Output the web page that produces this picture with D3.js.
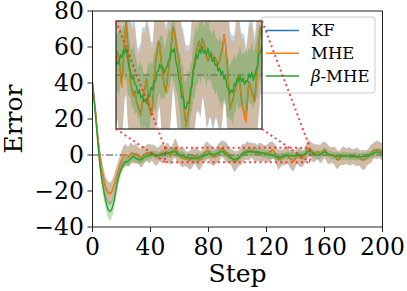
<!DOCTYPE html>
<html>
<head>
<meta charset="utf-8">
<script src="https://cdn.jsdelivr.net/npm/d3@7"></script>
<style>
  body { margin: 0; background: #fff; }
  text { font-family: "DejaVu Serif", serif; fill: #000; }
</style>
</head>
<body>
<div id="chart"></div>
<script>
// step index is the array position (0..200)
const steps = d3.range(0, 201);
const xTicks = [0, 40, 80, 120, 160, 200];
const yTicks = [-40, -20, 0, 20, 40, 60, 80];
const seriesNames = ["KF", "MHE", "β-MHE"];
const seriesColors = ["#1f77b4", "#ff7f0e", "#2ca02c"];

const kfMean = [
  40,32.2,24.8,15.8,7.3,0.3,-5.8,-10.3,-14.3,-17.8,-19.8,-21.1,-21.4,-20.8,-19,-16.6,-13.6,-10.6,-8,-5.4,-3.1,-1.5,-0.3,0.2,-0.5,-0.9,0.5,1.1,0.6,0.4,
  1.0,0.2,-0.7,-1.5,-1.0,-0.3,0.4,0.9,1.3,0.8,1.0,1.4,0.7,-0.1,-0.8,-0.5,0.4,1.0,0.5,1.2,
  0.8,1.7,1.3,0.3,-0.8,0.9,3.0,3.9,2.3,0.7,-0.5,-1.1,-1.5,-1.2,-1.9,-2.3,-2.6,-2.9,-2.1,-1.5,
  -0.8,-0.3,-1.5,-2.5,-2.9,-2.3,-0.6,0.8,1.7,2.5,2.2,1.0,0.1,-0.7,-1.2,-0.5,0.4,1.3,2.4,3.5,
  3.2,2.5,1.7,1.1,0.1,-0.7,-1.5,-2.8,-3.7,-3.1,-2.5,-1.6,-0.5,0.4,1.2,1.7,2.2,2.5,1.8,2.7,
  2.4,2.0,1.4,1.1,1.3,1.7,1.5,1.2,1.3,1.0,0.8,1.1,1.6,2.0,3.0,2.3,1.1,-0.5,-2.5,-2.2,
  -1.8,-1.3,-1.0,-0.4,0,-0.8,-1.9,-2.5,-3.0,-3.4,-1.9,-0.5,-0.8,-1.2,-1.6,-1.9,-0.5,0.7,2.5,3.5,
  3.3,2.1,1.3,1.0,1.4,1.9,1.1,0.6,1.3,2.3,2.9,2.1,0.7,0.1,-0.2,0.3,-0.3,-0.5,-1.7,-2.7,
  -2.4,-1.3,-0.7,-0.3,-0.4,-0.8,-0.5,-0.7,-1.1,-0.9,-1.0,-0.8,-1.2,-1.0,-1.5,-2.1,-2.5,-2.8,-2.6,-1.7,
  -0.9,-0.2,0.7,1.6,2.5,2.9,2.7,3.0,2.8,2.2,1.7
];
const kfStd = [
  0.6,1.6,2.6,3.3,3.9,4.3,4.7,5.1,5.5,5.8,6.1,6.2,6.3,6.2,6.1,5.9,5.7,5.5,5.4,5.3,5.5,5.9,6.2,5.8,5.3,5.7,6.1,5.5,5.0,5.3,
  5.6,5.0,4.6,5.2,5.8,5.3,4.7,4.4,5.0,5.5,4.9,4.5,5.1,5.6,5.2,4.6,4.3,4.8,5.4,5.0,
  4.6,5.0,5.6,5.2,4.7,4.3,4.8,5.4,5.8,5.2,4.6,4.9,5.5,5.1,4.5,4.2,4.7,5.3,5.7,5.0,
  4.4,4.8,5.3,5.8,5.4,4.7,4.3,4.9,5.5,5.1,4.6,5.0,5.6,5.3,4.8,4.4,4.9,5.4,5.0,4.5,
  4.8,5.3,5.7,5.2,4.6,4.3,4.9,5.5,5.9,5.3,4.7,4.4,5.0,5.6,5.2,4.6,4.9,5.4,5.0,4.5,
  4.3,4.8,5.3,4.9,4.5,5.0,5.5,5.1,4.6,4.3,4.7,5.2,5.7,5.3,4.8,4.4,4.9,5.5,5.8,5.2,
  4.7,4.3,4.8,5.3,4.9,4.5,5.0,5.6,5.9,5.3,4.7,4.4,4.9,5.5,5.1,4.6,4.3,4.8,5.3,5.0,
  4.5,4.8,5.3,5.0,4.5,4.2,4.6,5.1,5.5,5.0,4.6,4.9,5.4,5.1,4.6,4.3,4.7,5.2,5.6,5.1,
  4.6,4.3,4.8,5.3,4.9,4.4,4.7,5.2,4.8,4.4,4.2,4.7,5.3,5.0,4.5,4.8,5.4,5.7,5.2,4.6,
  4.3,4.7,5.2,4.8,4.4,4.7,5.2,4.9,4.5,4.8,5.1
];

const mheMean = [
  40,32,24.5,15.5,7,0,-6,-10.5,-14.5,-18,-20,-21.3,-21.6,-21,-19.2,-16.8,-13.8,-10.8,-8.2,-5.6,-3.2,-1.6,-0.4,0.1,-0.6,-1,0.4,1,0.5,0.3,
  0.9,0.1,-0.8,-1.6,-1.1,-0.4,0.3,0.8,1.2,0.7,0.9,1.3,0.6,-0.2,-0.9,-0.6,0.3,0.9,0.4,1.1,
  0.7,1.6,1.2,0.2,-0.9,0.8,2.9,3.8,2.2,0.6,-0.6,-1.2,-1.6,-1.3,-2.0,-2.4,-2.7,-3.0,-2.2,-1.6,
  -0.9,-0.4,-1.6,-2.6,-3.0,-2.4,-0.7,0.7,1.6,2.4,2.1,0.9,0,-0.8,-1.3,-0.6,0.3,1.2,2.3,3.4,
  3.1,2.4,1.6,1.0,0,-0.8,-1.6,-2.9,-3.8,-3.2,-2.6,-1.7,-0.6,0.3,1.1,1.6,2.1,2.4,1.7,2.6,
  2.3,1.9,1.3,1.0,1.2,1.6,1.4,1.1,1.2,0.9,0.7,1.0,1.5,1.9,2.9,2.2,1.0,-0.6,-2.6,-2.3,
  -1.9,-1.4,-1.1,-0.5,-0.1,-0.9,-2.0,-2.6,-3.1,-3.5,-2.0,-0.6,-0.9,-1.3,-1.7,-2.0,-0.6,0.6,2.4,3.4,
  3.2,2.0,1.2,0.9,1.3,1.8,1.0,0.5,1.2,2.2,2.8,2.0,0.6,0,-0.3,0.2,-0.4,-0.6,-1.8,-2.8,
  -2.5,-1.4,-0.8,-0.4,-0.5,-0.9,-0.6,-0.8,-1.2,-1.0,-1.1,-0.9,-1.3,-1.1,-1.6,-2.2,-2.6,-2.9,-2.7,-1.8,
  -1.0,-0.3,0.6,1.5,2.4,2.8,2.6,2.9,2.7,2.1,1.6
];
const mheStd = [
  0.5,1.5,2.5,3.2,3.8,4.2,4.6,5.0,5.4,5.7,6.0,6.1,6.2,6.1,6.0,5.8,5.6,5.4,5.3,5.2,5.4,5.8,6.1,5.7,5.2,5.6,6.0,5.4,4.9,5.2,
  5.5,4.8,4.4,5.0,5.6,5.1,4.5,4.2,4.8,5.3,4.7,4.3,4.9,5.4,5.0,4.4,4.1,4.6,5.2,4.8,
  4.3,4.7,5.3,4.9,4.4,4.0,4.5,5.1,5.5,4.9,4.3,4.6,5.2,4.8,4.2,3.9,4.4,5.0,5.4,4.7,
  4.1,4.5,5.0,5.5,5.1,4.4,4.0,4.6,5.2,4.8,4.3,4.7,5.3,5.0,4.5,4.1,4.6,5.1,4.7,4.2,
  4.5,5.0,5.4,4.9,4.3,4.0,4.6,5.2,5.6,5.0,4.4,4.1,4.7,5.3,4.9,4.3,4.6,5.1,4.7,4.2,
  4.0,4.5,5.0,4.6,4.2,4.7,5.2,4.8,4.3,4.0,4.4,4.9,5.4,5.0,4.5,4.1,4.6,5.2,5.5,4.9,
  4.4,4.0,4.5,5.0,4.6,4.2,4.7,5.3,5.6,5.0,4.4,4.1,4.6,5.2,4.8,4.3,4.0,4.5,5.0,4.7,
  4.3,4.6,5.1,4.8,4.3,4.0,4.4,4.9,5.3,4.8,4.4,4.7,5.2,4.9,4.4,4.1,4.5,5.0,5.4,4.9,
  4.4,4.1,4.6,5.1,4.7,4.2,4.5,5.0,4.6,4.2,4.0,4.5,5.1,4.8,4.3,4.6,5.2,5.5,5.0,4.4,
  4.1,4.5,5.0,4.6,4.2,4.5,5.0,4.7,4.3,4.6,4.9
];

const bmheMean = [
  40,31,22.5,13,3.5,-5,-11.5,-16.5,-21,-25,-28.3,-30.5,-31.4,-30.6,-28.4,-25,-20.6,-16,-12.4,-9.6,-7.4,-5.6,-4.3,-3.6,-3.8,-3.1,-2.4,-1.3,-0.9,-1.4,
  -1.9,-2.3,-2.7,-2.8,-2.3,-1.8,-1.2,-0.8,-0.4,-0.2,0.1,0.3,0.5,0.2,-0.1,-0.3,-0.4,0,0.4,0.6,
  0.7,1.0,0.8,1.5,1.3,1.9,1.6,2.0,1.2,0.6,0.2,-0.3,-0.1,-0.7,-0.8,-1.4,-1.1,-1.7,-1.5,-2.0,
  -1.8,-2.1,-1.5,-1.6,-0.9,-1.1,-0.4,-0.5,0.2,0.3,0.8,0.5,0.6,0.1,0.5,0.6,1.1,1.2,1.9,1.7,
  2.0,1.0,0.6,-0.3,-0.7,-1.7,-1.6,-2.4,-2.5,-2.0,-2.1,-1.1,-0.8,0.4,0.7,1.5,1.2,1.9,1.6,2.1,
  1.6,1.8,1.5,2.0,1.4,1.5,1.0,1.2,0.7,0.8,0.3,0.5,0.0,0.3,-0.3,-0.1,-0.9,-1.0,-1.4,-1.1,
  -1.3,-0.6,-0.8,-0.2,-0.5,-0.1,-0.5,-0.2,-0.7,-0.4,-0.5,0.1,-0.2,0.2,-0.4,-0.1,0.4,0.7,1.6,1.7,
  2.1,1.5,0.9,0.4,0.1,0,-0.1,0.2,0.7,1.3,1.7,1.4,0.8,0.4,0.1,-0.1,-0.3,-0.5,-0.6,-0.8,
  -0.9,-0.7,-0.5,-0.4,-0.5,-0.6,-0.6,-0.7,-0.8,-0.7,-0.6,-0.7,-0.8,-0.9,-0.8,-0.9,-1.0,-0.9,-0.7,-0.5,
  -0.3,0,0.3,0.6,1.0,1.4,1.7,1.6,1.4,1.2,1.0
];
const bmheStd = [
  0.5,1.2,2.0,2.6,3.1,3.5,3.9,4.2,4.5,4.8,5.0,5.1,5.1,5.0,4.8,4.5,4.2,3.9,3.6,3.4,3.2,3.0,2.9,2.8,2.7,2.6,2.5,2.5,2.4,2.3,
  2.2,2.3,2.1,2.0,2.2,2.4,2.1,1.9,2.0,2.2,2.3,2.0,1.8,2.0,2.3,2.1,1.9,2.1,2.4,2.2,
  1.9,2.1,2.4,2.2,1.9,1.8,2.0,2.3,2.5,2.2,1.9,2.1,2.4,2.2,1.9,1.8,2.1,2.4,2.3,2.0,
  1.9,2.2,2.5,2.3,2.0,1.8,2.0,2.3,2.2,1.9,2.1,2.4,2.2,1.9,1.8,2.1,2.3,2.0,1.9,2.2,
  2.4,2.2,1.9,2.0,2.3,2.5,2.2,1.9,2.1,2.4,2.2,1.9,1.8,2.1,2.4,2.2,1.9,2.0,2.3,2.1,
  1.9,2.1,2.4,2.2,1.9,1.8,2.0,2.3,2.2,1.9,2.1,2.4,2.5,2.2,1.9,2.0,2.3,2.1,1.9,2.2,
  2.4,2.2,1.9,1.8,2.1,2.3,2.0,1.9,2.2,2.4,2.1,1.9,2.0,2.3,2.2,1.9,2.1,2.4,2.2,1.9,
  1.8,2.0,2.3,2.1,1.9,2.2,2.4,2.1,1.9,2.0,2.3,2.2,1.9,1.8,2.1,2.3,2.0,1.9,2.2,2.4,
  2.2,1.9,2.0,2.3,2.1,1.9,2.2,2.4,2.1,1.9,2.0,2.3,2.2,1.9,1.8,2.1,2.4,2.2,1.9,2.1,
  2.3,2.1,1.9,2.2,2.4,2.1,1.9,2.0,2.3,2.1,2.0
];

// zoomed window shown in the inset
const zoomSteps = [50, 150];
const zoomErr = [-4, 4];

const width = 407, height = 291;
const plot = { left: 92.5, right: 382.5, top: 11, bottom: 227 };
const inset = { left: 116, right: 262, top: 21, bottom: 129 };

const series = [
  { name: seriesNames[0], color: seriesColors[0], mean: kfMean, std: kfStd },
  { name: seriesNames[1], color: seriesColors[1], mean: mheMean, std: mheStd },
  { name: seriesNames[2], color: seriesColors[2], mean: bmheMean, std: bmheStd }
];

const svg = d3.select("#chart").append("svg")
  .attr("width", width)
  .attr("height", height);

const x = d3.scaleLinear().domain([0, 200]).range([plot.left, plot.right]);
const y = d3.scaleLinear().domain([-40, 80]).range([plot.bottom, plot.top]);

const defs = svg.append("defs");
defs.append("clipPath").attr("id", "clipMain").append("rect")
  .attr("x", plot.left).attr("y", plot.top)
  .attr("width", plot.right - plot.left).attr("height", plot.bottom - plot.top);
defs.append("clipPath").attr("id", "clipInset").append("rect")
  .attr("x", inset.left).attr("y", inset.top)
  .attr("width", inset.right - inset.left).attr("height", inset.bottom - inset.top);

function drawSeries(g, xs, ys, domain) {
  const idx = steps.filter(s => s >= domain[0] - 1 && s <= domain[1] + 1);
  // zero reference line
  g.append("line")
    .attr("x1", xs(domain[0])).attr("x2", xs(domain[1]))
    .attr("y1", ys(0)).attr("y2", ys(0))
    .attr("stroke", "#000").attr("stroke-opacity", 0.5)
    .attr("stroke-width", 1.3)
    .attr("stroke-dasharray", "7,2.5,1.5,2.5");
  series.forEach(s => {
    const area = d3.area()
      .x(i => xs(i))
      .y0(i => ys(s.mean[i] - s.std[i]))
      .y1(i => ys(s.mean[i] + s.std[i]));
    g.append("path")
      .datum(idx)
      .attr("d", area)
      .attr("fill", s.color)
      .attr("fill-opacity", 0.3);
    const line = d3.line().x(i => xs(i)).y(i => ys(s.mean[i]));
    g.append("path")
      .datum(idx)
      .attr("d", line)
      .attr("fill", "none")
      .attr("stroke", s.color)
      .attr("stroke-width", 1.4)
      .attr("stroke-linejoin", "round");
  });
}

// main plot
const main = svg.append("g").attr("clip-path", "url(#clipMain)");
drawSeries(main, x, y, [0, 200]);

// axes frame
svg.append("rect")
  .attr("x", plot.left).attr("y", plot.top)
  .attr("width", plot.right - plot.left).attr("height", plot.bottom - plot.top)
  .attr("fill", "none").attr("stroke", "#222").attr("stroke-width", 1);

const fmt = v => (v < 0 ? "\u2212" + Math.abs(v) : String(v));

svg.append("g").selectAll("line").data(xTicks).enter().append("line")
  .attr("x1", d => x(d)).attr("x2", d => x(d))
  .attr("y1", plot.bottom).attr("y2", plot.bottom + 5)
  .attr("stroke", "#222");
svg.append("g").selectAll("text").data(xTicks).enter().append("text")
  .attr("x", d => x(d)).attr("y", 255)
  .attr("text-anchor", "middle")
  .attr("font-size", 23.5)
  .text(fmt);

svg.append("g").selectAll("line").data(yTicks).enter().append("line")
  .attr("x1", plot.left - 5).attr("x2", plot.left)
  .attr("y1", d => y(d)).attr("y2", d => y(d))
  .attr("stroke", "#222");
svg.append("g").selectAll("text").data(yTicks).enter().append("text")
  .attr("x", plot.left - 8.5).attr("y", d => y(d))
  .attr("dy", "0.36em")
  .attr("text-anchor", "end")
  .attr("font-size", 23.5)
  .text(fmt);

svg.append("text")
  .attr("x", (plot.left + plot.right) / 2).attr("y", 282)
  .attr("text-anchor", "middle")
  .attr("font-size", 25)
  .text("Step");
svg.append("text")
  .attr("transform", `translate(22,${(plot.top + plot.bottom) / 2}) rotate(-90)`)
  .attr("text-anchor", "middle")
  .attr("font-size", 25)
  .text("Error");

// legend
const legend = svg.append("g");
legend.append("rect")
  .attr("x", 261).attr("y", 17).attr("width", 114).attr("height", 76)
  .attr("rx", 3)
  .attr("fill", "#fff").attr("fill-opacity", 0.8)
  .attr("stroke", "#ccc").attr("stroke-width", 1);
series.forEach((s, i) => {
  const ly = 30.5 + i * 22.7;
  legend.append("line")
    .attr("x1", 266).attr("x2", 299)
    .attr("y1", ly).attr("y2", ly)
    .attr("stroke", s.color).attr("stroke-width", 1.5);
  const t = legend.append("text")
    .attr("x", 311).attr("y", ly).attr("dy", "0.36em")
    .attr("font-size", 16.5);
  if (s.name.startsWith("β")) {
    t.append("tspan").attr("font-style", "italic").text("β");
    t.append("tspan").text(s.name.slice(1));
  } else {
    t.text(s.name);
  }
});

// inset
const xi = d3.scaleLinear().domain(zoomSteps).range([inset.left, inset.right]);
const yi = d3.scaleLinear().domain(zoomErr).range([inset.bottom, inset.top]);
svg.append("rect")
  .attr("x", inset.left).attr("y", inset.top)
  .attr("width", inset.right - inset.left).attr("height", inset.bottom - inset.top)
  .attr("fill", "#fff");
const insetG = svg.append("g").attr("clip-path", "url(#clipInset)");
drawSeries(insetG, xi, yi, zoomSteps);
svg.append("rect")
  .attr("x", inset.left).attr("y", inset.top)
  .attr("width", inset.right - inset.left).attr("height", inset.bottom - inset.top)
  .attr("fill", "none").attr("stroke", "#222").attr("stroke-width", 1.2);

// zoom marker and connectors
const rx0 = x(zoomSteps[0]), rx1 = x(zoomSteps[1]);
const ry0 = y(zoomErr[1]), ry1 = y(zoomErr[0]);
const dotted = sel => sel.attr("fill", "none").attr("stroke", "#ff2020")
  .attr("stroke-opacity", 0.85).attr("stroke-width", 2).attr("stroke-dasharray", "2,3.2");
svg.append("rect")
  .attr("x", rx0).attr("y", ry0).attr("width", rx1 - rx0).attr("height", ry1 - ry0)
  .call(dotted);
const corners = [
  [inset.left, inset.top, rx0, ry0],
  [inset.left, inset.bottom, rx0, ry1],
  [inset.right, inset.top, rx1, ry0],
  [inset.right, inset.bottom, rx1, ry1]
];
svg.append("g").selectAll("line").data(corners).enter().append("line")
  .attr("x1", d => d[0]).attr("y1", d => d[1])
  .attr("x2", d => d[2]).attr("y2", d => d[3])
  .call(dotted);
</script>
</body>
</html>
